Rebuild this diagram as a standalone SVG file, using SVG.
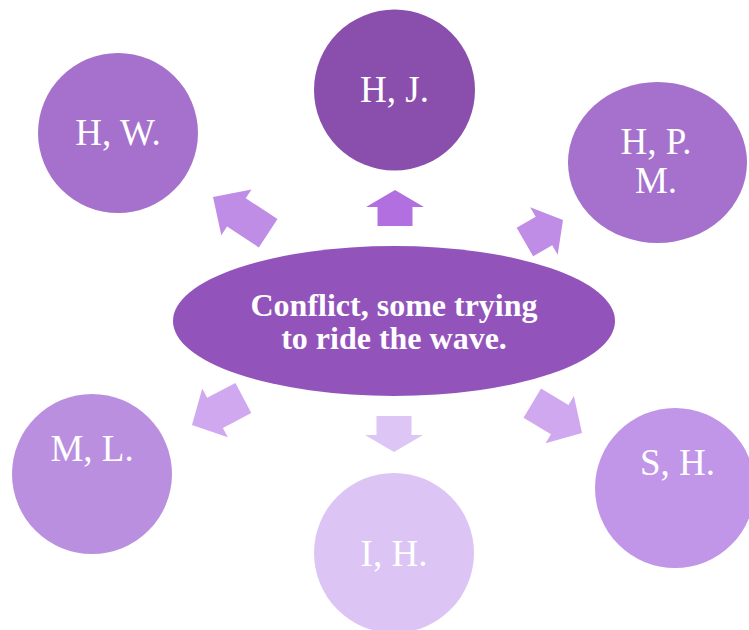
<svg xmlns="http://www.w3.org/2000/svg" width="749" height="630" viewBox="0 0 749 630">
  <style>
    .lbl { font-family: "Liberation Serif", "Times New Roman", serif; font-size: 37px; fill: #ffffff; text-anchor: middle; }
    .hub { font-family: "Liberation Serif", "Times New Roman", serif; font-size: 32px; font-weight: bold; fill: #ffffff; text-anchor: middle; }
  </style>
  <defs>
    <!-- block arrows, tip at origin pointing along +x -->
    <polygon id="arrowLong" points="0,0 -28,-27.5 -28,-17 -66,-17 -66,17 -28,17 -28,27.5"/>
    <polygon id="arrowMid" points="0,0 -26,-27.5 -26,-17 -58,-17 -58,17 -26,17 -26,27.5"/>
    <polygon id="arrowShort" points="0,0 -22,-27.5 -22,-16.5 -44,-16.5 -44,16.5 -22,16.5 -22,27.5"/>
    <polygon id="arrowTiny" points="0,0 -17,-29 -17,-17.5 -36,-17.5 -36,17.5 -17,17.5 -17,29"/>
  </defs>

  <g id="connectors">
    <use href="#arrowTiny" fill="#b26fe0" transform="translate(395,190) rotate(-90)"/>
    <use href="#arrowLong" fill="#c08de6" transform="translate(213,197) rotate(-146.7)"/>
    <use href="#arrowShort" fill="#c08de6" transform="translate(563,220) rotate(-30)"/>
    <use href="#arrowMid" fill="#d0a8ef" transform="translate(192,425) rotate(152.3)"/>
    <use href="#arrowTiny" fill="#ddc6f5" transform="translate(394,452) rotate(90)"/>
    <use href="#arrowMid" fill="#d0a8ef" transform="translate(582,433) rotate(31)"/>
  </g>

  <g id="hub">
    <ellipse cx="394" cy="321" rx="221" ry="75" fill="#9254bb"/>
    <text class="hub" x="394" y="316">Conflict, some trying</text>
    <text class="hub" x="394" y="349">to ride the wave.</text>
  </g>

  <g id="node-hj">
    <circle cx="394.5" cy="90" r="80.5" fill="#8a4fad"/>
    <text class="lbl" x="394.5" y="102">H, J.</text>
  </g>
  <g id="node-hw">
    <circle cx="118" cy="133" r="80" fill="#a671cc"/>
    <text class="lbl" x="118" y="145">H, W.</text>
  </g>
  <g id="node-hpm">
    <ellipse cx="657.5" cy="162.5" rx="89.5" ry="80.5" fill="#a571cc"/>
    <text class="lbl" x="656" y="154">H, P.</text>
    <text class="lbl" x="656" y="193">M.</text>
  </g>
  <g id="node-ml">
    <circle cx="92" cy="474" r="80" fill="#bb8fe0"/>
    <text class="lbl" x="92" y="461">M, L.</text>
  </g>
  <g id="node-ih">
    <circle cx="394" cy="553" r="80" fill="#dcc4f5"/>
    <text class="lbl" x="394" y="566">I, H.</text>
  </g>
  <g id="node-sh">
    <circle cx="675" cy="488" r="80" fill="#c196e8"/>
    <text class="lbl" x="677.5" y="475">S, H.</text>
  </g>
</svg>
